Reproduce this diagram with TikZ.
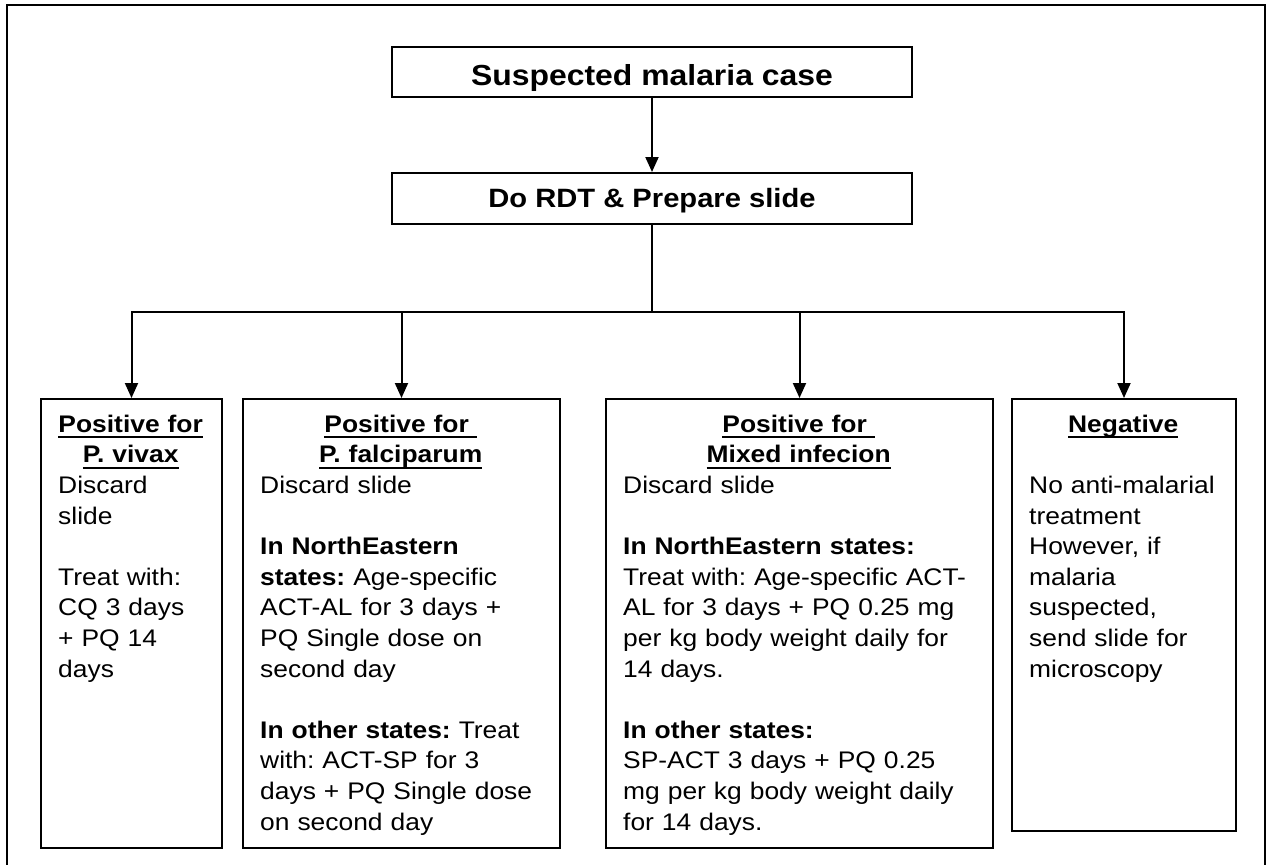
\documentclass[tikz,border=0pt]{standalone}
\usepackage{fontspec}
\setmainfont{Liberation Sans}[FakeStretch=1.1]
\usetikzlibrary{arrows.meta,calc}
\frenchspacing
\newcommand\myul[1]{\setbox0=\hbox{#1}\rlap{\rule[-5.8pt]{\wd0}{2pt}}\box0}
\newcommand\ttl[1]{\makebox[\hsize]{\myul{#1}}}
\newcommand\firstline{\rule{0pt}{20pt}}
\begin{document}
\begin{tikzpicture}[x=1pt,y=-1pt,
  frame/.style={line width=2.4pt},
  box/.style={draw,line width=2pt,inner sep=0pt},
  conn/.style={line width=2pt},
  arr/.style={line width=2pt,-{Triangle[length=15pt,width=13pt]}},
  body/.style={anchor=north west,inner sep=0pt,font=\fontsize{24}{30.6}\selectfont\frenchspacing}]
\useasboundingbox (0,0) rectangle (1270,865);
\fill[white] (0,0) rectangle (1270,865);
\draw[frame] (7,865) -- (7,5) -- (1265,5) -- (1265,865);

% top boxes
\node[box,minimum width=520pt,minimum height=50pt,text height=26pt,text depth=0pt,
  font=\fontsize{29}{34}\selectfont\bfseries] (b1) at (652,72) {Suspected malaria case};
\node[box,minimum width=520pt,minimum height=51pt,text height=18.4pt,text depth=0pt,
  font=\fontsize{26.5}{31}\selectfont\bfseries] (b2) at (652,198.5) {Do RDT \& Prepare slide};

% result boxes
\node[box,minimum width=181pt,minimum height=449pt] (bv) at (131.5,623.5) {};
\node[box,minimum width=317pt,minimum height=449pt] (bf) at (401.5,623.5) {};
\node[box,minimum width=387pt,minimum height=449pt] (bm) at (799.5,623.5) {};
\node[box,minimum width=224pt,minimum height=432pt] (bn) at (1124,615) {};

% connectors
\coordinate (hub) at (652,312);
\draw[arr] (b1) -- (b2);
\draw[conn] (b2) -- (hub);
\draw[arr] (hub) -| (bv.north);
\draw[arr] (hub) -| (bf.north);
\draw[arr] (hub) -| (bm.north);
\draw[arr] (hub) -| (bn.north);

% texts
\node[body,text width=145pt] (tv) at ($(bv.north west)+(18,14)$) {\raggedright
\firstline\ttl{\bfseries Positive for}\\
\ttl{\bfseries P. vivax}\\
Discard\\
slide\\[30.6pt]
Treat with:\\
CQ 3 days\\
+ PQ 14\\
days\par};

\node[body,text width=281pt] (tf) at ($(bf.north west)+(18,14)$) {\raggedright
\firstline\ttl{\bfseries Positive for }\\
\ttl{\bfseries P. falciparum}\\
Discard slide\\[30.6pt]
\textbf{In NorthEastern}\\
\textbf{states:} Age-specific\\
ACT-AL for 3 days +\\
PQ Single dose on\\
second day\\[30.6pt]
\textbf{In other states:} Treat\\
with: ACT-SP for 3\\
days + PQ Single dose\\
on second day\par};

\node[body,text width=351pt] (tm) at ($(bm.north west)+(18,14)$) {\raggedright
\firstline\ttl{\bfseries Positive for }\\
\ttl{\bfseries Mixed infecion}\\
Discard slide\\[30.6pt]
\textbf{In NorthEastern states:}\\
Treat with: Age-specific ACT-\\
AL for 3 days + PQ 0.25 mg\\
per kg body weight daily for\\
14 days.\\[30.6pt]
\textbf{In other states:}\\
SP-ACT 3 days + PQ 0.25\\
mg per kg body weight daily\\
for 14 days.\par};

\node[body,text width=188pt] (tn) at ($(bn.north west)+(18,14)$) {\raggedright
\firstline\ttl{\bfseries Negative}\\[30.6pt]
No anti-malarial\\
treatment\\
However, if\\
malaria\\
suspected,\\
send slide for\\
microscopy\par};
\end{tikzpicture}
\end{document}
